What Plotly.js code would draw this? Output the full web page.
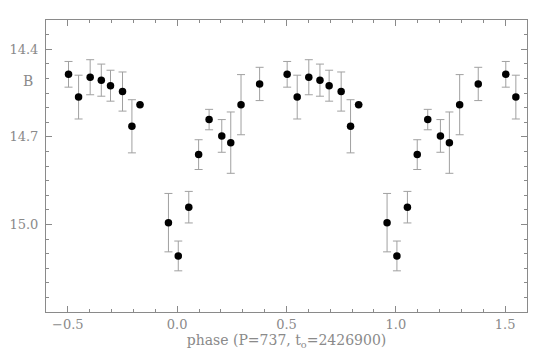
<!DOCTYPE html>
<html>
<head>
<meta charset="utf-8">
<script src="https://cdn.plot.ly/plotly-3.0.1.min.js"></script>
<style>html,body{margin:0;padding:0;background:#fff}#chart{width:540px;height:353px}</style>
</head>
<body>
<div id="chart"></div>
<script>
// Base phases (0..1), B magnitudes and errors
const phase = [0.503, 0.549, 0.602, 0.653, 0.695, 0.750, 0.793, 0.830, 0.960,
               0.005, 0.053, 0.098, 0.146, 0.204, 0.245, 0.292, 0.377];
const mag   = [14.486, 14.564, 14.496, 14.506, 14.525, 14.545, 14.664, 14.590, 14.994,
               15.108, 14.941, 14.761, 14.641, 14.697, 14.720, 14.590, 14.519];
const err   = [0.044, 0.075, 0.060, 0.055, 0.053, 0.067, 0.091, null, 0.100,
               0.051, 0.054, 0.051, 0.035, 0.056, 0.105, 0.103, 0.057];
const xTicks = [-0.5, 0.0, 0.5, 1.0, 1.5];
const xTickText = ['\u22120.5', '0.0', '0.5', '1.0', '1.5'];
const yTicks = [14.4, 14.7, 15.0];
const yTickText = ['14.4', '14.7', '15.0'];
const shifts = [-1, 0, 1];
const xRange = [-0.6, 1.6];

const X = [], Y = [], E = [];
shifts.forEach(k => {
  phase.forEach((p, i) => {
    const v = p + k;
    if (v > xRange[0] && v < xRange[1]) { X.push(v); Y.push(mag[i]); E.push(err[i]); }
  });
});

const gray = '#8a8a8a';
const fnt = {family: '"DejaVu Serif", "Liberation Serif", serif', size: 13, color: gray};

const trace = {
  x: X, y: Y, type: 'scatter', mode: 'markers',
  marker: {color: '#000', size: 7.5},
  error_y: {type: 'data', array: E, visible: true, color: '#a0a0a0', thickness: 1, width: 4},
  hoverinfo: 'none'
};

const axisCommon = {
  showline: true, linecolor: gray, linewidth: 1, mirror: 'ticks',
  ticks: 'inside', ticklen: 6, tickcolor: gray, tickwidth: 1,
  showgrid: false, zeroline: false, tickfont: fnt
};

const layout = {
  width: 540, height: 353,
  margin: {l: 46, r: 13, t: 20, b: 41},
  paper_bgcolor: '#fff', plot_bgcolor: '#fff',
  showlegend: false,
  xaxis: Object.assign({}, axisCommon, {
    range: xRange, tickmode: 'array', tickvals: xTicks, ticktext: xTickText,
    minor: {dtick: 0.1, tick0: 0, ticks: 'inside', ticklen: 3, tickcolor: gray, showgrid: false},
    title: {text: 'phase (P=737, t<sub>o</sub>=2426900)', font: {family: fnt.family, size: 14, color: gray}, standoff: 4}
  }),
  yaxis: Object.assign({}, axisCommon, {
    range: [15.3, 14.3], tickmode: 'array', tickvals: yTicks, ticktext: yTickText,
    minor: {dtick: 0.05, tick0: 14.3, ticks: 'inside', ticklen: 3, tickcolor: gray, showgrid: false},
    ticklabelstandoff: 4
  }),
  annotations: [{
    text: 'B', xref: 'paper', yref: 'y', x: -0.037, y: 14.51,
    xanchor: 'center', yanchor: 'middle', showarrow: false,
    font: {family: fnt.family, size: 14, color: gray}
  }]
};

Plotly.newPlot('chart', [trace], layout, {staticPlot: true, displayModeBar: false});
</script>
</body>
</html>
